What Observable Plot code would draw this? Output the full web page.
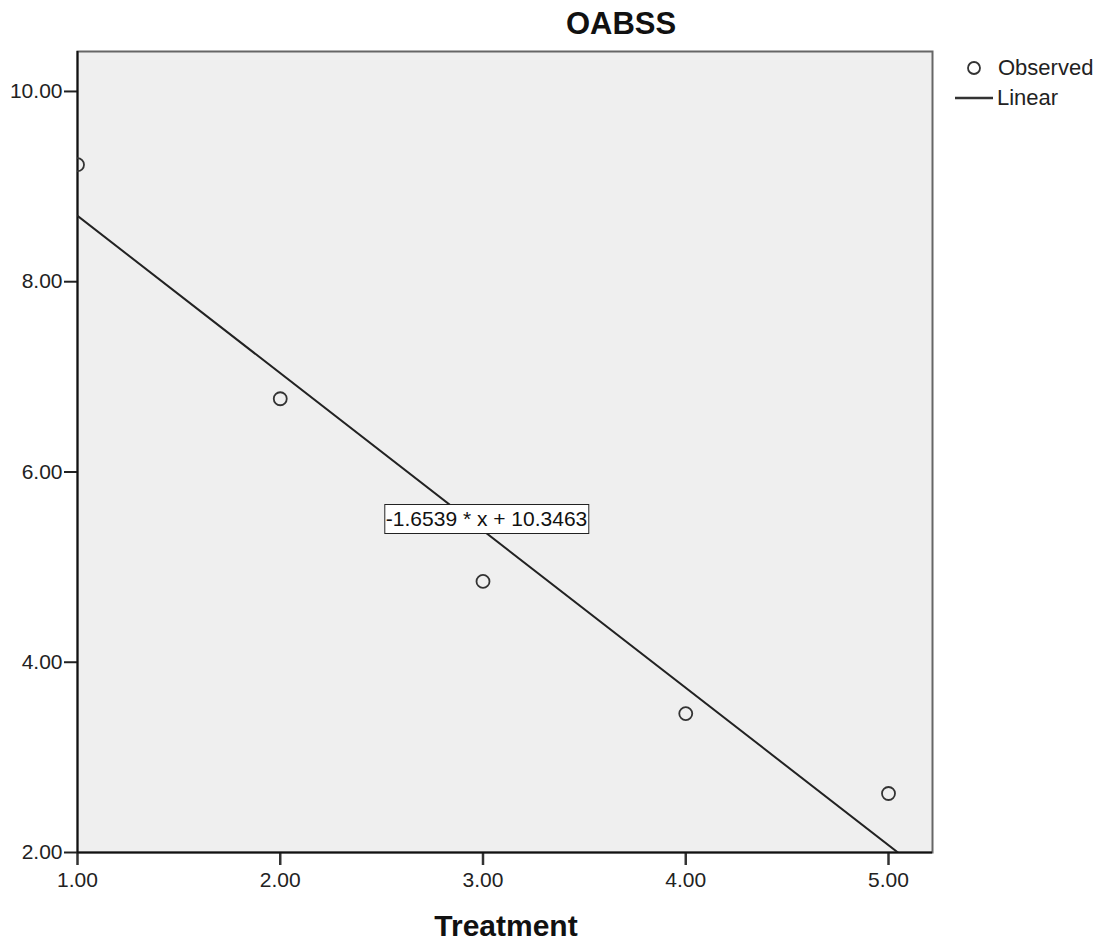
<!DOCTYPE html>
<html>
<head>
<meta charset="utf-8">
<script src="https://cdn.jsdelivr.net/npm/d3@7"></script>
<script src="https://cdn.jsdelivr.net/npm/@observablehq/plot@0.6"></script>
<style>
  html, body { margin: 0; padding: 0; background: #fff; }
  #wrap { position: relative; width: 1099px; height: 944px; font-family: "Liberation Sans", Arial, sans-serif; }
  .abs { position: absolute; white-space: nowrap; }
  #title { left: 521px; width: 200px; top: 8px; text-align: center; font-weight: bold; font-size: 31px; color: #111; line-height: 32px; }
  #xlabel { left: 406px; width: 200px; top: 910px; text-align: center; font-weight: bold; font-size: 30px; color: #111; line-height: 32px; }
  #eq { background: #fff; border: 1.5px solid #222; font-size: 21px; color: #111; padding: 2px 1px; line-height: 24px; transform: translate(-50%, -50%); }
  .leg { font-size: 22px; color: #222; line-height: 22px; }
</style>
</head>
<body>
<div id="wrap"></div>
<script>
// Data
const treatment = [1, 2, 3, 4, 5];
const oabss = [9.23, 6.77, 4.85, 3.46, 2.62];
const slope = -1.6539;
const intercept = 10.3463;
const xTicks = [1, 2, 3, 4, 5];
const yTicks = [2, 4, 6, 8, 10];
const titleText = "OABSS";
const xLabelText = "Treatment";
const legendLabels = ["Observed", "Linear"];
const eqText = "-1.6539 * x + 10.3463";
const eqPos = [3.02, 5.5];

const xDomain = [1, 5.217];
const yDomain = [2, 10.42];

const points = treatment.map((t, i) => ({x: t, y: oabss[i]}));
const fit = xDomain.map(x => ({x, y: slope * x + intercept}));

const fmt = d3.format(".2f");

const plot = Plot.plot({
  width: 1099,
  height: 944,
  marginLeft: 77,
  marginRight: 167,
  marginTop: 51,
  marginBottom: 92,
  style: {fontFamily: "'Liberation Sans', Arial, sans-serif", fontSize: "21px", color: "#222", background: "transparent"},
  x: {domain: xDomain, label: null},
  y: {domain: yDomain, label: null},
  marks: [
    Plot.frame({fill: "#efefef", stroke: "#666", strokeWidth: 2}),
    Plot.axisX({ticks: xTicks, tickFormat: fmt, tickSize: 13, tickPadding: 7, stroke: "#333", strokeWidth: 2.5, fontSize: 21, label: null}),
    Plot.axisY({ticks: yTicks, tickFormat: fmt, tickSize: 13, tickPadding: 2, stroke: "#222", strokeWidth: 2, fontSize: 21, label: null}),
    Plot.ruleX([xDomain[0]], {stroke: "#111", strokeWidth: 2}),
    Plot.ruleY([yDomain[0]], {stroke: "#111", strokeWidth: 2}),
    Plot.line(fit, {x: "x", y: "y", stroke: "#222", strokeWidth: 2, clip: true}),
    Plot.dot(points, {x: "x", y: "y", r: 6.5, stroke: "#333", strokeWidth: 1.8, fill: "none", clip: true})
  ]
});

const wrap = document.getElementById("wrap");
wrap.appendChild(plot);
plot.style.position = "absolute";
plot.style.left = "0";
plot.style.top = "0";

function addDiv(id, cls, text, left, top) {
  const d = document.createElement("div");
  if (id) d.id = id;
  d.className = "abs " + (cls || "");
  d.textContent = text;
  if (left != null) d.style.left = left + "px";
  if (top != null) d.style.top = top + "px";
  wrap.appendChild(d);
  return d;
}

addDiv("title", "", titleText);
addDiv("xlabel", "", xLabelText);

const sx = plot.scale("x"), sy = plot.scale("y");
addDiv("eq", "", eqText, sx.apply(eqPos[0]), sy.apply(eqPos[1]));

// Legend
const ns = "http://www.w3.org/2000/svg";
const leg = document.createElementNS(ns, "svg");
leg.setAttribute("width", 50);
leg.setAttribute("height", 60);
leg.style.position = "absolute";
leg.style.left = "950px";
leg.style.top = "50px";
const c = document.createElementNS(ns, "circle");
c.setAttribute("cx", 24); c.setAttribute("cy", 18); c.setAttribute("r", 6);
c.setAttribute("fill", "none"); c.setAttribute("stroke", "#333"); c.setAttribute("stroke-width", 1.8);
leg.appendChild(c);
const l = document.createElementNS(ns, "line");
l.setAttribute("x1", 5); l.setAttribute("x2", 43); l.setAttribute("y1", 48); l.setAttribute("y2", 48);
l.setAttribute("stroke", "#333"); l.setAttribute("stroke-width", 2.5);
leg.appendChild(l);
wrap.appendChild(leg);
addDiv(null, "leg", legendLabels[0], 998, 57);
addDiv(null, "leg", legendLabels[1], 997, 87);
</script>
</body>
</html>
